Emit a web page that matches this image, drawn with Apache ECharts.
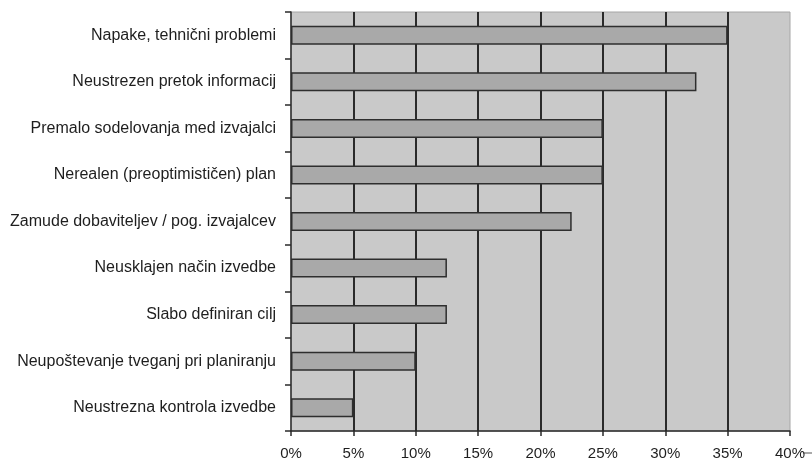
<!DOCTYPE html>
<html>
<head>
<meta charset="utf-8">
<script src="https://cdn.jsdelivr.net/npm/echarts@6/dist/echarts.min.js"></script>
<style>
  html, body { margin: 0; padding: 0; background: #ffffff; }
  #chart { width: 812px; height: 461px; }
</style>
</head>
<body>
<div id="chart"></div>
<script>
// Causes of project problems, share of responses (%)
const categories = [
  'Napake, tehnični problemi',
  'Neustrezen pretok informacij',
  'Premalo sodelovanja med izvajalci',
  'Nerealen (preoptimističen) plan',
  'Zamude dobaviteljev / pog. izvajalcev',
  'Neusklajen način izvedbe',
  'Slabo definiran cilj',
  'Neupoštevanje tveganj pri planiranju',
  'Neustrezna kontrola izvedbe'
];
const values = [35, 32.5, 25, 25, 22.5, 12.5, 12.5, 10, 5];
const xTicks = [0, 5, 10, 15, 20, 25, 30, 35, 40];

const chart = echarts.init(document.getElementById('chart'), null, { renderer: 'canvas' });

const fontFamily = '"Liberation Sans", Arial, sans-serif';

chart.setOption({
  animation: false,
  backgroundColor: '#ffffff',
  grid: {
    left: 291,
    right: 22,
    top: 12,
    bottom: 29,
    show: true,
    backgroundColor: '#c9c9c9',
    borderColor: '#a6a6a6',
    borderWidth: 1
  },
  xAxis: {
    type: 'value',
    min: xTicks[0],
    max: xTicks[xTicks.length - 1],
    interval: 5,
    axisLine: { show: true, lineStyle: { color: '#2a2a2a', width: 1.5 } },
    axisTick: { show: true, length: 5, lineStyle: { color: '#2a2a2a', width: 1.5 } },
    splitLine: { show: true, showMinLine: false, showMaxLine: false, lineStyle: { color: '#2a2a2a', width: 2 } },
    axisLabel: {
      margin: 15,
      color: '#1e1e1e',
      fontFamily: fontFamily,
      fontSize: 15,
      formatter: v => v + '%'
    }
  },
  yAxis: {
    type: 'category',
    data: categories,
    inverse: true,
    axisLine: { show: true, lineStyle: { color: '#2a2a2a', width: 1.5 } },
    axisTick: { show: true, length: 6, lineStyle: { color: '#2a2a2a', width: 1.5 } },
    splitLine: { show: false },
    axisLabel: {
      margin: 15,
      color: '#1e1e1e',
      fontFamily: fontFamily,
      fontSize: 16
    }
  },
  series: [{
    type: 'bar',
    data: values,
    barWidth: 19,
    itemStyle: {
      color: '#a9a9a9',
      borderColor: '#2e2e2e',
      borderWidth: 1.5
    }
  }],
  graphic: [{
    type: 'line',
    shape: { x1: 803, y1: 453, x2: 812, y2: 453 },
    style: { stroke: '#555', lineWidth: 1 }
  }]
});
</script>
</body>
</html>
